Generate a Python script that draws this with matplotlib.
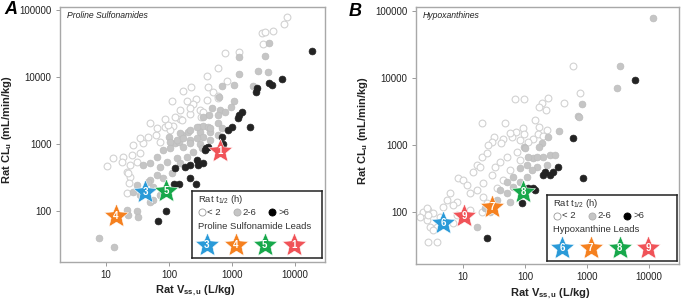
import matplotlib
matplotlib.use("Agg")
import matplotlib.pyplot as plt
from matplotlib.path import Path
from matplotlib.ticker import NullLocator

plt.rcParams["font.family"] = ["Liberation Sans", "DejaVu Sans"]
plt.rcParams["mathtext.fontset"] = "custom"
plt.rcParams["mathtext.rm"] = "Liberation Sans"
plt.rcParams["mathtext.it"] = "Liberation Sans:italic"
plt.rcParams["mathtext.bf"] = "Liberation Sans:bold"

# ---- Panel A: proline sulfonamides (Vss,u in L/kg, CLu in mL/min/kg) ----
ps_open_x = [7500, 6700, 3000, 3300, 4500, 3100, 770, 1300, 600, 830, 400, 167, 220, 193, 112, 268,
             416, 500, 600, 310, 240, 150, 86, 116, 62, 46, 39, 72, 104, 215, 322, 10.4, 150, 215,
             86, 124, 161, 50, 64, 35, 27, 18.6, 26, 18, 24, 21.5, 24, 31, 35, 400, 347, 600, 96,
             12.9, 22, 23, 21.5]
ps_open_y = [79000, 62000, 45000, 47000, 49000, 31000, 23000, 24000, 13600, 8700, 10400, 6200, 7100,
             4400, 4400, 4700, 7100, 6000, 5200, 3200, 4000, 2400, 1800, 1860, 1360, 1270, 1040, 1070,
             1620, 2800, 2500, 470, 3200, 3440, 2360, 2530, 2280, 2060, 1730, 1230, 970, 640, 685,
             540, 486, 382, 320, 540, 734, 4540, 3000, 4860, 1920, 620, 369, 262, 186]
ps_gray_x = [3900, 3300, 1290, 1290, 2600, 3700, 690, 1080, 2150, 620, 1080, 960, 480, 645, 770, 430,
             600, 347, 300, 347, 416, 200, 310, 448, 600, 100, 161, 215, 124, 144, 310, 448, 347, 278,
             600, 694, 215, 150, 278, 104, 134, 167, 80, 104, 167, 215, 64, 50, 72, 39, 93, 134, 193,
             64, 50, 31, 35, 56, 80, 112, 150, 240, 334, 72, 27, 448, 7.7, 13.4, 21.5, 31, 32, 22,
             46, 56, 50]
ps_gray_y = [32000, 20600, 19900, 11100, 12300, 11900, 7300, 7600, 7300, 5000, 4400, 3600, 3400, 3200,
             3000, 2700, 2700, 2500, 1800, 1860, 1800, 1500, 1500, 1500, 2060, 1270, 1360, 1150, 1040,
             1070, 1000, 1150, 1270, 1230, 1360, 1730, 1620, 1460, 1800, 1070, 1150, 1230, 810, 870,
             900, 1040, 640, 520, 454, 486, 540, 618, 640, 344, 290, 244, 173, 228, 311, 369, 520,
             760, 870, 173, 192, 1730, 40, 29, 104, 100, 81, 87, 271, 146, 136]
ps_black_x = [18600, 6200, 3900, 4300, 2500, 2400, 1440, 1290, 1245, 1930, 1000, 864, 694, 720, 416,
              387, 373, 278, 215, 288, 347, 180, 124, 215, 120, 142, 268, 90, 67]
ps_black_y = [24400, 9300, 8100, 7600, 6900, 6000, 3000, 2700, 2440, 1790, 1790, 1620, 1270, 1000, 900,
              870, 810, 577, 486, 486, 520, 454, 439, 311, 250, 253, 253, 100, 71]
ps_lead_labels = ["3", "5", "4", "1"]
ps_lead_x = [41.6, 90, 14.4, 645]
ps_lead_y = [192, 199, 84, 787]
ps_legend_labels = ["3", "4", "5", "1"]

# ---- Panel B: hypoxanthines ----
hx_open_x = [594, 770, 69, 96, 188, 235, 168, 218, 426, 20, 47.5, 145, 168, 93, 72, 96, 226, 162, 195,
             31.6, 44, 62, 41, 29.4, 25, 135, 83, 112, 2.26, 2.72, 2.02, 2.62, 2.94, 2.72, 3.8, 3.8,
             4.26, 57, 8.3, 10, 16.8, 18.8, 14.5, 20, 24.4, 33, 29.4, 11.6, 13, 6.2, 5.5, 8, 4.75,
             2.6, 3.3, 16.8, 21, 39.5, 51, 74, 83, 57, 44, 35, 21, 24, 2.7, 3.3, 6.9, 8, 13, 20, 6.9]
hx_open_y = [15100, 6000, 4860, 4860, 4240, 5000, 3700, 3300, 4240, 2130, 2130, 2360, 1860, 1790, 1560,
             1460, 1680, 1460, 1360, 1320, 1230, 1320, 1070, 1110, 1000, 1230, 1190, 1110, 100, 107,
             84, 76, 60, 36, 36, 60, 84, 1510, 321, 300, 502, 470, 395, 662, 760, 470, 356, 253, 192,
             192, 151, 141, 119, 115, 97, 213, 271, 557, 662, 787, 597, 424, 300, 228, 168, 136, 90,
             54, 69, 90, 107, 100, 127]
hx_gray_x = [11600, 3400, 3050, 830, 716, 743, 353, 235, 188, 168, 96, 16.8, 57, 83, 108, 135, 195, 253,
             305, 226, 156, 51, 39.5, 64, 35, 27, 22.6, 51, 64, 83, 108, 130, 100, 112, 156]
hx_gray_y = [78700, 15100, 7100, 4100, 2700, 2620, 1620, 1320, 1070, 930, 930, 60, 141, 454, 502, 640,
             662, 710, 710, 502, 470, 281, 213, 333, 151, 100, 115, 192, 236, 281, 333, 424, 902, 662,
             662]
hx_black_x = [5940, 594, 24.4, 89.5, 861, 341, 283, 210, 195, 253, 135, 112, 145]
hx_black_y = [9340, 1270, 41, 136, 321, 470, 395, 395, 356, 356, 228, 228, 213]
hx_lead_labels = ["6", "9", "7", "8"]
hx_lead_x = [4.75, 10.4, 29.4, 93]
hx_lead_y = [69, 87, 119, 199]
hx_legend_labels = ["6", "7", "8", "9"]

x_ticks = [10, 100, 1000, 10000]
y_ticks = [100, 1000, 10000, 100000]

BLUE = "#2a9ad8"
ORANGE = "#f5801f"
GREEN = "#17a84b"
RED = "#f05358"
lead_colors = {"3": BLUE, "4": ORANGE, "5": GREEN, "1": RED,
               "6": BLUE, "7": ORANGE, "8": GREEN, "9": RED}
OPEN_EDGE = "#d2d2d2"
GRAY_FILL = "#c5c5c5"
BLACK_FILL = "#232323"

# fatter five-point star than the built-in "*"
STAR = Path.unit_regular_star(5, innerCircle=0.45)


def star(ax, x, y, label, size=330, fs=7):
    ax.scatter([x], [y], marker=STAR, s=size, color=lead_colors[label],
               edgecolor="white", linewidth=0.4, zorder=5)
    ax.text(x, y, label, color="white", fontsize=fs, fontweight="bold",
            ha="center", va="center", zorder=6)


def draw_legend(ax, bounds, lead_title, legend_labels):
    lg = ax.inset_axes(bounds)
    lg.set_xlim(0, 1)
    lg.set_ylim(0, 1)
    lg.set_xticks([])
    lg.set_yticks([])
    for sp in lg.spines.values():
        sp.set_color("#222222")
        sp.set_linewidth(1.1)
    lg.set_zorder(10)
    fs = 6.8
    lg.text(0.045, 0.88, r"Rat t$_{1/2}$ (h)", fontsize=fs, va="center", color="#333333")
    row = 0.685
    lg.scatter([0.078], [row], s=26, facecolor="white", edgecolor="#9a9a9a", linewidth=0.6)
    lg.text(0.115, row, "< 2", fontsize=fs, va="center", color="#333333")
    lg.scatter([0.345], [row], s=26, facecolor=GRAY_FILL, edgecolor="#b0b0b0", linewidth=0.6)
    lg.text(0.385, row, "2-6", fontsize=fs, va="center", color="#333333")
    lg.scatter([0.615], [row], s=26, facecolor="black", edgecolor="black", linewidth=0.6)
    lg.text(0.665, row, ">6", fontsize=fs, va="center", color="#333333")
    lg.text(0.045, 0.475, lead_title, fontsize=fs, va="center", color="#333333")
    for i, lab in enumerate(legend_labels):
        star(lg, 0.115 + i * 0.222, 0.19, lab)


def draw_panel(ax, open_x, open_y, gray_x, gray_y, black_x, black_y,
               lead_labels, lead_x, lead_y, title, xlim, ylim):
    ax.scatter(open_x, open_y, s=24, facecolor="white", edgecolor=OPEN_EDGE, linewidth=0.8, zorder=2)
    ax.scatter(gray_x, gray_y, s=24, facecolor=GRAY_FILL, edgecolor="#bdbdbd", linewidth=0.5, zorder=3)
    ax.scatter(black_x, black_y, s=24, facecolor=BLACK_FILL, edgecolor=BLACK_FILL, linewidth=0.5, zorder=4)
    for lab, x, y in zip(lead_labels, lead_x, lead_y):
        star(ax, x, y, lab)

    ax.set_xscale("log")
    ax.set_yscale("log")
    ax.set_xlim(*xlim)
    ax.set_ylim(*ylim)
    ax.set_xticks(x_ticks)
    ax.set_xticklabels([str(t) for t in x_ticks])
    ax.set_yticks(y_ticks)
    ax.set_yticklabels([str(t) for t in y_ticks])
    ax.xaxis.set_minor_locator(NullLocator())
    ax.yaxis.set_minor_locator(NullLocator())
    ax.tick_params(length=3, width=0.6, color="#8a8a8a", labelsize=7, labelcolor="#222222", pad=3)
    for sp in ax.spines.values():
        sp.set_color("#a8a8a8")
        sp.set_linewidth(1.0)

    ax.text(0.025, 0.968, title, transform=ax.transAxes, fontsize=6.2, style="italic",
            va="center", color="#222222")
    ax.set_ylabel(r"Rat CL$_\mathbf{u}$ (mL/min/kg)", fontsize=8, fontweight="bold", color="#222222")
    ax.set_xlabel(r"Rat V$_\mathbf{ss,u}$ (L/kg)", fontsize=8, fontweight="bold", color="#222222")
    ax.yaxis.set_label_coords(-0.175, 0.52)
    ax.xaxis.set_label_coords(0.51, -0.085)


fig = plt.figure(figsize=(6.81, 3.01), dpi=100)
ax_a = fig.add_axes([60 / 681, 1 - 262 / 301, 265 / 681, 255 / 301])
ax_b = fig.add_axes([416 / 681, 1 - 264 / 301, 263 / 681, 257 / 301])

draw_panel(ax_a, ps_open_x, ps_open_y, ps_gray_x, ps_gray_y, ps_black_x, ps_black_y,
           ps_lead_labels, ps_lead_x, ps_lead_y, "Proline Sulfonamides",
           (1.86, 30000), (17.3, 111000))
draw_legend(ax_a, [0.498, 0.016, 0.491, 0.262], "Proline Sulfonamide Leads", ps_legend_labels)

draw_panel(ax_b, hx_open_x, hx_open_y, hx_gray_x, hx_gray_y, hx_black_x, hx_black_y,
           hx_lead_labels, hx_lead_x, hx_lead_y, "Hypoxanthines",
           (1.75, 30500), (16.7, 115000))
draw_legend(ax_b, [0.498, 0.012, 0.494, 0.256], "Hypoxanthine Leads", hx_legend_labels)

fig.text(4 / 681, 1 - 10 / 301, "A", fontsize=13, fontweight="bold", style="italic", va="center")
fig.text(349 / 681, 1 - 11 / 301, "B", fontsize=13, fontweight="bold", style="italic", va="center")

fig.savefig("out.png", dpi=100)
